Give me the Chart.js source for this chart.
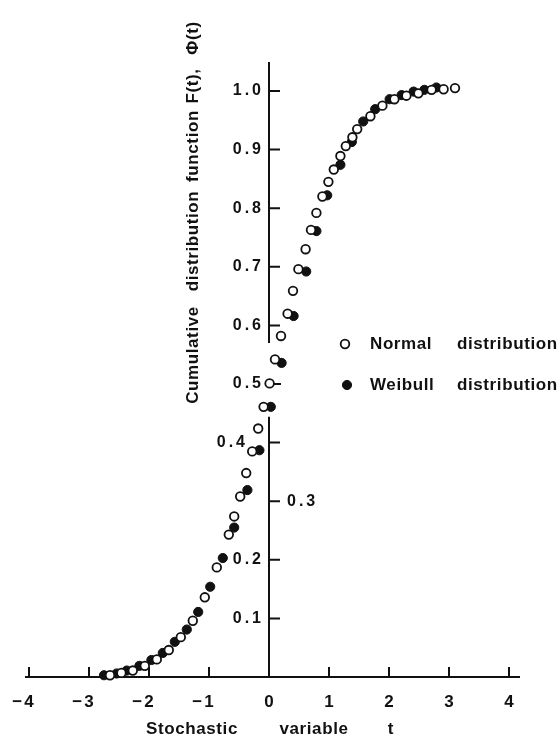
<!DOCTYPE html>
<html>
<head>
<meta charset="utf-8">
<script src="https://cdn.jsdelivr.net/npm/chart.js@4.4.1/dist/chart.umd.min.js"></script>
<style>
  html, body { margin: 0; padding: 0; background: #fff; }
  #cdf { display: block; }
</style>
</head>
<body>
<canvas id="cdf" width="560" height="740"></canvas>
<script>
// open circles: normal distribution, t vs Phi(t)
const normalT = [-2.65, -2.46, -2.27, -2.07, -1.87, -1.67, -1.47, -1.27, -1.07, -0.87,
  -0.67, -0.58, -0.48, -0.38, -0.28, -0.18, -0.09, 0.01, 0.10, 0.20,
  0.31, 0.40, 0.49, 0.61, 0.70, 0.79, 0.89, 0.99, 1.08, 1.19,
  1.28, 1.39, 1.47, 1.69, 1.89, 2.09, 2.29, 2.49, 2.71, 2.91, 3.10];
const normalF = [0.003, 0.007, 0.011, 0.019, 0.030, 0.046, 0.068, 0.096, 0.136, 0.187,
  0.243, 0.274, 0.308, 0.348, 0.385, 0.424, 0.461, 0.501, 0.542, 0.582,
  0.620, 0.659, 0.696, 0.730, 0.763, 0.792, 0.820, 0.845, 0.866, 0.889,
  0.906, 0.921, 0.935, 0.957, 0.975, 0.986, 0.992, 0.996, 1.002, 1.003, 1.005];

// filled circles: Weibull distribution, t vs F(t)
const weibullT = [-2.75, -2.54, -2.37, -2.16, -1.96, -1.77, -1.57, -1.37, -1.18, -0.98,
  -0.77, -0.58, -0.36, -0.16, 0.03, 0.21, 0.41, 0.62, 0.79, 0.97,
  1.19, 1.38, 1.57, 1.77, 2.01, 2.21, 2.41, 2.59, 2.79];
const weibullF = [0.003, 0.006, 0.011, 0.019, 0.029, 0.041, 0.060, 0.081, 0.111, 0.154,
  0.203, 0.255, 0.319, 0.387, 0.461, 0.536, 0.616, 0.692, 0.761, 0.822,
  0.874, 0.913, 0.948, 0.969, 0.986, 0.993, 0.999, 1.002, 1.006];

const xTicks = [-4, -3, -2, -1, 0, 1, 2, 3, 4];
const yTicks = [0.1, 0.2, 0.3, 0.4, 0.5, 0.6, 0.7, 0.8, 0.9, 1.0];
const seriesNames = [['Normal', 'distribution'], ['Weibull', 'distribution']];
const xTitle = ['Stochastic', 'variable', 't'];
const yTitle = ['Cumulative', 'distribution', 'function', 'F(t),', 'Φ(t)'];

const ink = '#111';
const font = (size) => `bold ${size}px "Liberation Sans", Arial, sans-serif`;

const toPoints = (ts, fs) => ts.map((t, i) => ({ x: t, y: fs[i] }));

const openStyle = { radius: 4.3, fill: '#fff', border: ink, width: 1.8 };
const fullStyle = { radius: 4.6, fill: ink, border: ink, width: 1 };

// axes are drawn by hand so the vertical one can sit at t = 0 with its gap
const axesPlugin = {
  id: 'handAxes',
  beforeDatasetsDraw(chart) {
    const { ctx, scales: { x, y } } = chart;
    const x0 = x.getPixelForValue(0);
    const y0 = y.getPixelForValue(0);
    ctx.save();
    ctx.strokeStyle = ink;
    ctx.lineWidth = 2;
    ctx.beginPath();
    ctx.moveTo(x.left, y0);
    ctx.lineTo(x.right - 1, y0);
    xTicks.forEach((v) => {
      const px = x.getPixelForValue(v);
      ctx.moveTo(px, y0);
      ctx.lineTo(px, y0 - 10);
    });
    // vertical axis, broken around the points near F = 0.5
    ctx.moveTo(x0, y.top);
    ctx.lineTo(x0, y.getPixelForValue(0.57));
    ctx.moveTo(x0, y.getPixelForValue(0.444));
    ctx.lineTo(x0, y0);
    yTicks.forEach((v) => {
      const py = y.getPixelForValue(v);
      if (v === 0.5) {
        ctx.moveTo(x0 + 5, py);
        ctx.lineTo(x0 + 12, py);
      } else {
        ctx.moveTo(x0, py);
        ctx.lineTo(x0 + 11, py);
      }
    });
    ctx.stroke();
    ctx.restore();
  },
  afterDraw(chart) {
    const { ctx, scales: { x, y } } = chart;
    const y0 = y.getPixelForValue(0);
    ctx.save();
    ctx.fillStyle = ink;
    ctx.textBaseline = 'middle';

    // t tick labels, digit centred on the tick, minus sign hanging left
    ctx.font = font(17);
    ctx.letterSpacing = '2px';
    ctx.textAlign = 'right';
    xTicks.forEach((v) => {
      const digit = String(Math.abs(v));
      const w = ctx.measureText(digit).width - 2;
      const label = v < 0 ? '\u2212' + digit : digit;
      ctx.fillText(label, x.getPixelForValue(v) + w / 2 + 2, y0 + 25);
    });

    // F tick labels; 0.3 sits on the right of the axis, 0.4 a bit further out
    ctx.font = font(16);
    ctx.letterSpacing = '3px';
    yTicks.forEach((v) => {
      const py = y.getPixelForValue(v);
      const label = v.toFixed(1);
      if (v === 0.3) {
        ctx.textAlign = 'left';
        ctx.fillText(label, 287, py);
      } else {
        ctx.textAlign = 'right';
        ctx.fillText(label, v === 0.4 ? 248 : 264, py);
      }
    });

    // axis titles
    ctx.font = font(17);
    ctx.letterSpacing = '0.6px';
    ctx.textAlign = 'center';
    [192, 314, 391].forEach((cx, i) => ctx.fillText(xTitle[i], cx, 729));

    ctx.save();
    ctx.translate(193, 0);
    ctx.rotate(-Math.PI / 2);
    [-355, -241, -146, -86, -38].forEach((cy, i) => ctx.fillText(yTitle[i], cy, 0));
    ctx.restore();

    // legend
    [[openStyle, 345, 344], [fullStyle, 347, 385]].forEach(([s, mx, my], i) => {
      ctx.beginPath();
      ctx.arc(mx, my, s.radius, 0, Math.PI * 2);
      ctx.fillStyle = s.fill;
      ctx.fill();
      ctx.lineWidth = s.width;
      ctx.strokeStyle = s.border;
      ctx.stroke();
      ctx.fillStyle = ink;
      ctx.textAlign = 'left';
      ctx.fillText(seriesNames[i][0], 370, my);
      ctx.fillText(seriesNames[i][1], 457, my);
    });
    ctx.restore();
  },
};

new Chart(document.getElementById('cdf'), {
  type: 'scatter',
  data: {
    datasets: [{
      label: 'Normal distribution',
      data: toPoints(normalT, normalF),
      order: 0,
      clip: false,
      pointRadius: openStyle.radius,
      pointBackgroundColor: openStyle.fill,
      pointBorderColor: openStyle.border,
      pointBorderWidth: openStyle.width,
    }, {
      label: 'Weibull distribution',
      data: toPoints(weibullT, weibullF),
      order: 1,
      clip: false,
      pointRadius: fullStyle.radius,
      pointBackgroundColor: fullStyle.fill,
      pointBorderColor: fullStyle.border,
      pointBorderWidth: fullStyle.width,
    }],
  },
  options: {
    responsive: false,
    animation: false,
    devicePixelRatio: 1,
    layout: {
      padding: { left: 25, right: 39, top: 62, bottom: 63 },
    },
    plugins: {
      legend: { display: false },
      tooltip: { enabled: false },
    },
    scales: {
      x: { type: 'linear', min: -4.0667, max: 4.2, display: false },
      y: { type: 'linear', min: 0, max: 1.0495, display: false },
    },
  },
  plugins: [axesPlugin],
});
</script>
</body>
</html>
